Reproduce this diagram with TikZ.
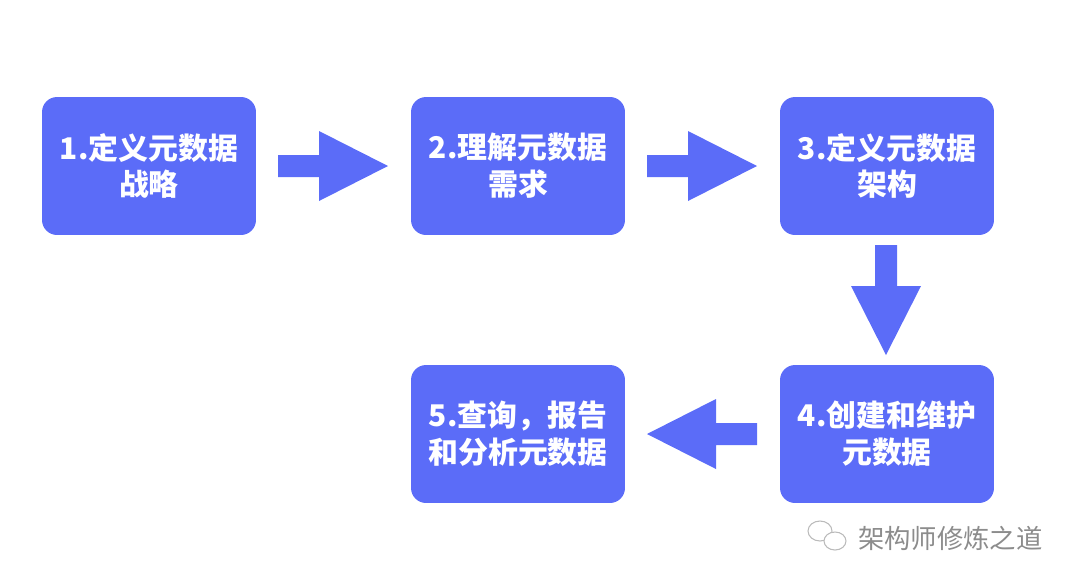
\documentclass[tikz,border=0pt]{standalone}
\usepackage{fontspec}
\newfontfamily\cjk{Noto Sans CJK SC}
\definecolor{stepblue}{HTML}{5B6CF8}
\definecolor{markgray}{HTML}{8C8C8C}

\begin{document}
\begin{tikzpicture}[x=0.02cm, y=-0.02cm,
    stepbox/.style={rectangle, rounded corners=0.3cm, fill=stepblue, minimum width=4.28cm,
      minimum height=2.76cm, text=white, align=center, font=\cjk\bfseries\fontsize{17}{21}\selectfont},
    flowarrow/.pic={\fill[stepblue] (-55, -11) -- (-14, -11) -- (-14, -35) -- (55, 0)
      -- (-14, 35) -- (-14, 11) -- (-55, 11) -- cycle;}]
      \useasboundingbox (0, 0) rectangle (1080, 586);

      \node[stepbox] (s1) at (149, 166) {1.定义元数据\\战略};
      \node[stepbox] (s2) at (518, 166) {2.理解元数据\\需求};
      \node[stepbox] (s3) at (887, 166) {3.定义元数据\\架构};
      \node[stepbox] (s4) at (887, 434) {4.创建和维护\\元数据};
      \node[stepbox] (s5) at (518, 434) {5.查询，报告\\和分析元数据};

      \pic at (333, 166) {flowarrow};
      \pic at (702, 166) {flowarrow};
      \pic[rotate=-90] at (886, 300) {flowarrow};
      \pic[rotate=180] at (702, 434) {flowarrow};

      % watermark
      \draw[markgray!60, line width=0.6pt] (820, 531) ellipse (12 and 10);
      \draw[markgray!60, line width=0.6pt, fill=white] (835, 541) ellipse (11 and 9);
      \node[text=markgray, font=\cjk\fontsize{15}{18}\selectfont, anchor=west] (mark) at (852, 538) {架构师修炼之道};
\end{tikzpicture}
\end{document}
